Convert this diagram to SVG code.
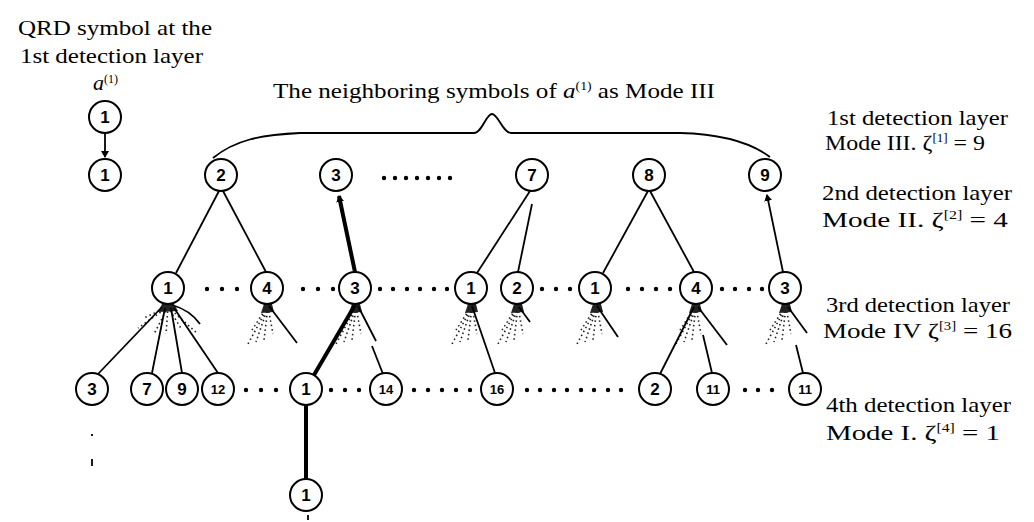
<svg xmlns="http://www.w3.org/2000/svg" width="1034" height="522" viewBox="0 0 1034 522">
<style>
.n{fill:#fff;stroke:#000;stroke-width:2}
.t{font-family:"Liberation Sans",Arial,sans-serif;font-weight:bold;font-size:17px;text-anchor:middle;fill:#000}
.t2{font-size:13px}
.e{stroke:#000;stroke-width:1.8;fill:none}
.th{stroke:#000;stroke-width:4;fill:none}
.lab{font-family:"Liberation Serif","Times New Roman",serif;font-size:22px;fill:#000}
.sup{font-size:12px}
.st{stroke:#222;stroke-width:1.6;stroke-dasharray:1.5 3;fill:none}
.dot{fill:#000}
</style>
<defs>
<marker id="ar" markerWidth="8" markerHeight="8" refX="6" refY="4" orient="auto" markerUnits="userSpaceOnUse">
<path d="M0,0 L7,4 L0,8 Z" fill="#000"/>
</marker>
<g id="fan">
<path d="M-4,0 L4,0 L6,8 L-7,9 Z" fill="#222"/>
<path class="st" d="M0,3 L-20,40 M0,3 L-12,38 M0,3 L-4,36 M0,3 L5,30 M-3,6 L-16,26"/>
</g>
<g id="fanW">
<path d="M-6,0 L6,0 L10,7 L-10,8 Z" fill="#222"/>
<path class="st" d="M0,3 L-30,24 M0,3 L-14,30 M0,3 L-2,30 M0,3 L14,26 M0,3 L30,30 M-5,5 L-24,14"/>
</g>
</defs>

<g id="labels">
<text class="lab" x="18" y="35" textLength="194" lengthAdjust="spacingAndGlyphs">QRD symbol at the</text>
<text class="lab" x="20" y="63" textLength="183" lengthAdjust="spacingAndGlyphs">1st detection layer</text>
<text class="lab" x="93" y="90" font-size="15" font-style="italic">a<tspan class="sup" dy="-7" font-size="10" font-style="normal">(1)</tspan></text>
<text class="lab" x="273" y="98" textLength="442" lengthAdjust="spacingAndGlyphs">The neighboring symbols of <tspan font-style="italic">a</tspan><tspan class="sup" dy="-8">(1)</tspan><tspan dy="8"> as Mode III</tspan></text>
<text class="lab" x="827" y="125" textLength="181" lengthAdjust="spacingAndGlyphs">1st detection layer</text>
<text class="lab" x="825" y="150" textLength="160" lengthAdjust="spacingAndGlyphs">Mode III.  ζ<tspan class="sup" dy="-8">[1]</tspan><tspan dy="8"> = 9</tspan></text>
<text class="lab" x="822" y="200" textLength="190" lengthAdjust="spacingAndGlyphs">2nd detection layer</text>
<text class="lab" x="822" y="227" textLength="186" lengthAdjust="spacingAndGlyphs">Mode II.   ζ<tspan class="sup" dy="-8">[2]</tspan><tspan dy="8"> = 4</tspan></text>
<text class="lab" x="826" y="312" textLength="184" lengthAdjust="spacingAndGlyphs">3rd detection layer</text>
<text class="lab" x="823" y="338" textLength="189" lengthAdjust="spacingAndGlyphs">Mode IV   ζ<tspan class="sup" dy="-8">[3]</tspan><tspan dy="8"> = 16</tspan></text>
<text class="lab" x="826" y="412" textLength="185" lengthAdjust="spacingAndGlyphs">4th detection layer</text>
<text class="lab" x="826" y="440" textLength="174" lengthAdjust="spacingAndGlyphs">Mode I.    ζ<tspan class="sup" dy="-8">[4]</tspan><tspan dy="8"> = 1</tspan></text>
</g>

<g id="connectors">
<path class="e" d="M213,158 C235,140 260,135 300,133 L474,133 C482,133 486,114 492,114 C498,114 503,133 511,133 L680,133 C720,134 750,142 770,157"/>
<line class="e" x1="105" y1="134" x2="105" y2="157" stroke-width="1.2" marker-end="url(#ar)"/>
<line class="e" x1="219" y1="191" x2="176" y2="273"/>
<line class="e" x1="223" y1="191" x2="266" y2="272"/>
<line class="th" x1="355" y1="272" x2="339" y2="196" marker-end="url(#ar)"/>
<line class="e" x1="530" y1="191" x2="477" y2="273"/>
<line class="e" x1="532" y1="204" x2="518" y2="272"/>
<line class="e" x1="648" y1="191" x2="603" y2="273"/>
<line class="e" x1="650" y1="191" x2="694" y2="272"/>
<line class="e" x1="783" y1="272" x2="767" y2="195" marker-end="url(#ar)"/>

<use href="#fanW" x="168" y="304"/>
<line class="e" x1="162" y1="307" x2="98" y2="374"/>
<line class="e" x1="165" y1="308" x2="152" y2="373"/>
<line class="e" x1="171" y1="308" x2="182" y2="373"/>
<line class="e" x1="174" y1="308" x2="218" y2="373"/>
<path class="e" d="M172,305 Q190,310 200,324"/>

<use href="#fan" x="268" y="304"/>
<line class="e" x1="269" y1="306" x2="297" y2="343"/>

<use href="#fan" x="356" y="304"/>
<line class="th" x1="355" y1="305" x2="314" y2="375"/>
<line class="e" x1="358" y1="306" x2="376" y2="341"/>
<line class="e" x1="372" y1="346" x2="383" y2="374"/>

<use href="#fan" x="472" y="304"/>
<line class="e" x1="472" y1="306" x2="495" y2="373"/>

<use href="#fan" x="518" y="304"/>
<line class="e" x1="519" y1="307" x2="530" y2="322"/>

<use href="#fan" x="597" y="304"/>
<line class="e" x1="597" y1="306" x2="618" y2="337"/>

<use href="#fan" x="696" y="304"/>
<line class="e" x1="694" y1="307" x2="660" y2="374"/>
<line class="e" x1="703" y1="335" x2="712" y2="373"/>
<line class="e" x1="698" y1="307" x2="727" y2="345"/>

<use href="#fan" x="786" y="304"/>
<line class="e" x1="788" y1="307" x2="807" y2="333"/>
<line class="e" x1="796" y1="345" x2="803" y2="373"/>

<line class="th" x1="306" y1="405" x2="306" y2="479"/>
<line class="e" x1="92" y1="434" x2="92" y2="436"/>
<line class="e" x1="92" y1="459" x2="92" y2="466"/>
<line class="e" x1="308" y1="515" x2="308" y2="520"/>
</g>

<g id="dots">
<circle class="dot" cx="384" cy="178" r="2.2"/><circle class="dot" cx="395" cy="178" r="2.2"/><circle class="dot" cx="406" cy="178" r="2.2"/><circle class="dot" cx="417" cy="178" r="2.2"/><circle class="dot" cx="428" cy="178" r="2.2"/><circle class="dot" cx="439" cy="178" r="2.2"/><circle class="dot" cx="450" cy="178" r="2.2"/>
<circle class="dot" cx="207" cy="289" r="2.2"/><circle class="dot" cx="222" cy="289" r="2.2"/><circle class="dot" cx="237" cy="289" r="2.2"/>
<circle class="dot" cx="303" cy="289" r="2.2"/><circle class="dot" cx="318" cy="289" r="2.2"/><circle class="dot" cx="333" cy="289" r="2.2"/>
<circle class="dot" cx="380" cy="289" r="2.2"/><circle class="dot" cx="393" cy="289" r="2.2"/><circle class="dot" cx="407" cy="289" r="2.2"/><circle class="dot" cx="420" cy="289" r="2.2"/><circle class="dot" cx="434" cy="289" r="2.2"/><circle class="dot" cx="447" cy="289" r="2.2"/>
<circle class="dot" cx="542" cy="289" r="2.2"/><circle class="dot" cx="556" cy="289" r="2.2"/><circle class="dot" cx="570" cy="289" r="2.2"/>
<circle class="dot" cx="628" cy="289" r="2.2"/><circle class="dot" cx="642" cy="289" r="2.2"/><circle class="dot" cx="656" cy="289" r="2.2"/><circle class="dot" cx="670" cy="289" r="2.2"/>
<circle class="dot" cx="722" cy="289" r="2.2"/><circle class="dot" cx="735" cy="289" r="2.2"/><circle class="dot" cx="749" cy="289" r="2.2"/><circle class="dot" cx="762" cy="289" r="2.2"/>
<circle class="dot" cx="246" cy="390" r="2.2"/><circle class="dot" cx="261" cy="390" r="2.2"/><circle class="dot" cx="276" cy="390" r="2.2"/>
<circle class="dot" cx="331" cy="390" r="2.2"/><circle class="dot" cx="345" cy="390" r="2.2"/><circle class="dot" cx="359" cy="390" r="2.2"/>
<circle class="dot" cx="414" cy="390" r="2.2"/><circle class="dot" cx="428" cy="390" r="2.2"/><circle class="dot" cx="442" cy="390" r="2.2"/><circle class="dot" cx="456" cy="390" r="2.2"/><circle class="dot" cx="470" cy="390" r="2.2"/>
<circle class="dot" cx="527" cy="390" r="2.2"/><circle class="dot" cx="540" cy="390" r="2.2"/><circle class="dot" cx="554" cy="390" r="2.2"/><circle class="dot" cx="567" cy="390" r="2.2"/><circle class="dot" cx="581" cy="390" r="2.2"/><circle class="dot" cx="594" cy="390" r="2.2"/><circle class="dot" cx="608" cy="390" r="2.2"/><circle class="dot" cx="621" cy="390" r="2.2"/>
<circle class="dot" cx="745" cy="390" r="2.2"/><circle class="dot" cx="758" cy="390" r="2.2"/><circle class="dot" cx="772" cy="390" r="2.2"/>
</g>

<g id="n0a"><circle class="n" cx="105" cy="117" r="16"/><text class="t" x="105" y="123">1</text></g>
<g id="n0b"><circle class="n" cx="105" cy="175" r="16"/><text class="t" x="105" y="181">1</text></g>
<g id="n1_2"><circle class="n" cx="221" cy="175" r="16"/><text class="t" x="221" y="181">2</text></g>
<g id="n1_3"><circle class="n" cx="336" cy="175" r="16"/><text class="t" x="336" y="181">3</text></g>
<g id="n1_7"><circle class="n" cx="532" cy="175" r="16"/><text class="t" x="532" y="181">7</text></g>
<g id="n1_8"><circle class="n" cx="649" cy="175" r="16"/><text class="t" x="649" y="181">8</text></g>
<g id="n1_9"><circle class="n" cx="765" cy="175" r="16"/><text class="t" x="765" y="181">9</text></g>

<g id="n2_1a"><circle class="n" cx="168" cy="288" r="16"/><text class="t" x="168" y="294">1</text></g>
<g id="n2_4a"><circle class="n" cx="267" cy="288" r="16"/><text class="t" x="267" y="294">4</text></g>
<g id="n2_3a"><circle class="n" cx="355" cy="288" r="16"/><text class="t" x="355" y="294">3</text></g>
<g id="n2_1b"><circle class="n" cx="471" cy="288" r="16"/><text class="t" x="471" y="294">1</text></g>
<g id="n2_2"><circle class="n" cx="517" cy="288" r="16"/><text class="t" x="517" y="294">2</text></g>
<g id="n2_1c"><circle class="n" cx="595" cy="288" r="16"/><text class="t" x="595" y="294">1</text></g>
<g id="n2_4b"><circle class="n" cx="696" cy="288" r="16"/><text class="t" x="696" y="294">4</text></g>
<g id="n2_3b"><circle class="n" cx="785" cy="288" r="16"/><text class="t" x="785" y="294">3</text></g>

<g id="n3_3"><circle class="n" cx="92" cy="389" r="16"/><text class="t" x="92" y="395">3</text></g>
<g id="n3_7"><circle class="n" cx="147" cy="389" r="16"/><text class="t" x="147" y="395">7</text></g>
<g id="n3_9"><circle class="n" cx="182" cy="389" r="16"/><text class="t" x="182" y="395">9</text></g>
<g id="n3_12"><circle class="n" cx="218" cy="389" r="16"/><text class="t t2" x="218" y="394">12</text></g>
<g id="n3_1"><circle class="n" cx="306" cy="389" r="16"/><text class="t" x="306" y="395">1</text></g>
<g id="n3_14"><circle class="n" cx="386" cy="389" r="16"/><text class="t t2" x="386" y="394">14</text></g>
<g id="n3_16"><circle class="n" cx="497" cy="389" r="16"/><text class="t t2" x="497" y="394">16</text></g>
<g id="n3_2"><circle class="n" cx="655" cy="389" r="16"/><text class="t" x="655" y="395">2</text></g>
<g id="n3_11a"><circle class="n" cx="713" cy="389" r="16"/><text class="t t2" x="713" y="394">11</text></g>
<g id="n3_11b"><circle class="n" cx="805" cy="389" r="16"/><text class="t t2" x="805" y="394">11</text></g>

<g id="n4_1"><circle class="n" cx="306" cy="495" r="16"/><text class="t" x="306" y="501">1</text></g>
</svg>
